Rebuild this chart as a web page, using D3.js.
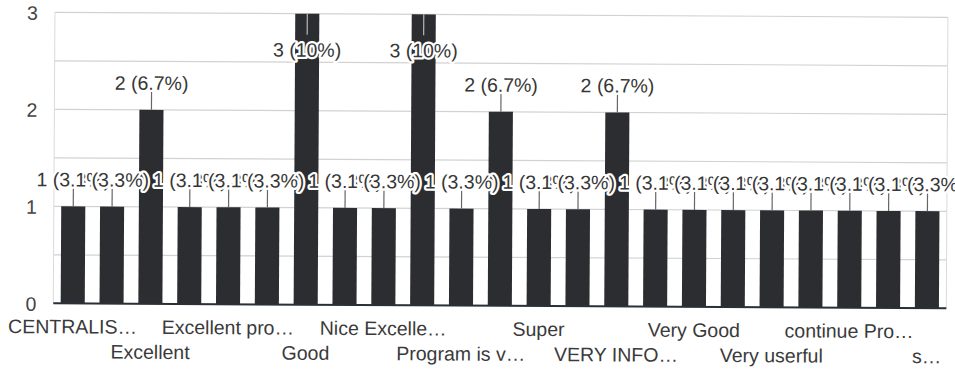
<!DOCTYPE html>
<html>
<head>
<meta charset="utf-8">
<script src="https://cdn.jsdelivr.net/npm/d3@7"></script>
<style>
  html, body { margin: 0; padding: 0; background: #fff; }
  svg { display: block; font-family: "Liberation Sans", Arial, sans-serif; }
</style>
</head>
<body>
<svg id="chart" width="955" height="376"></svg>
<script>
// Responses, sorted the way the form summary sorts them
const categories = [
  "CENTRALIS…", "Effective", "Excellent", "Excellent and useful", "Excellent pro…",
  "Fruitful", "Good", "Informative", "Nice Excelle…", "Nice program",
  "Program is v…", "Program was useful", "Super", "Useful", "VERY INFO…",
  "VERY USEFUL", "Very Good", "Very nice", "Very userful", "Well organised",
  "continue Pro…", "good", "s…"
];
const counts = [
  1, 1, 2, 1, 1,
  1, 3, 1, 1, 3,
  1, 2, 1, 1, 2,
  1, 1, 1, 1, 1,
  1, 1, 1
];
const totalResponses = 30;
const yTickValues = [0, 1, 2, 3];
const gridValues = [0, 0.5, 1, 1.5, 2, 2.5, 3];

const svg = d3.select("#chart");
const plot = { left: 55, right: 948, top: 12, bottom: 303 };

// whole drawing sits at a very slight clockwise tilt
const g = svg.append("g").attr("transform", "rotate(0.32)");

const x = d3.scaleBand()
  .domain(categories)
  .range([plot.left, plot.right])
  .paddingInner(0.38)
  .paddingOuter(0.19);

const y = d3.scaleLinear()
  .domain([0, 3])
  .range([plot.bottom, plot.top]);

const data = categories.map((c, i) => ({ cat: c, value: counts[i], i }));

// gridlines
g.append("g")
  .selectAll("line")
  .data(gridValues)
  .join("line")
  .attr("x1", plot.left).attr("x2", plot.right)
  .attr("y1", d => y(d)).attr("y2", d => y(d))
  .attr("stroke", "#d2d2d2")
  .attr("stroke-width", 1.2);

// chart-area side edges
[plot.left, plot.right].forEach(px => {
  g.append("line")
    .attr("x1", px).attr("x2", px)
    .attr("y1", y(3)).attr("y2", y(0))
    .attr("stroke", "#dadada")
    .attr("stroke-width", 1);
});

// y-axis labels
const yAxis = d3.axisLeft(y).tickValues(yTickValues).tickFormat(d3.format("d")).tickSize(0).tickPadding(0);
const yAxisG = g.append("g")
  .attr("transform", `translate(38,0)`)
  .call(yAxis);
yAxisG.select(".domain").remove();
yAxisG.selectAll("text")
  .attr("font-size", "19.5px")
  .attr("font-family", "\"Liberation Sans\", Arial, sans-serif")
  .attr("fill", "#444")
  .attr("dy", "0.36em");

// bars
g.append("g")
  .selectAll("rect")
  .data(data)
  .join("rect")
  .attr("x", d => x(d.cat))
  .attr("y", d => y(d.value))
  .attr("width", x.bandwidth())
  .attr("height", d => y(0) - y(d.value))
  .attr("fill", "#2c2d30");

// baseline
g.append("line")
  .attr("x1", plot.left).attr("x2", plot.right)
  .attr("y1", y(0)).attr("y2", y(0))
  .attr("stroke", "#2a3038")
  .attr("stroke-width", 2);

// x-axis labels: every other category, alternating between two rows
const xAxis = d3.axisBottom(x).tickSize(0).tickPadding(0)
  .tickFormat((d, i) => (i % 2 === 0 ? d : ""));
const xAxisG = g.append("g")
  .attr("transform", `translate(0,${y(0)})`)
  .call(xAxis);
xAxisG.select(".domain").remove();
xAxisG.selectAll("text")
  .attr("font-size", "19.5px")
  .attr("font-family", "\"Liberation Sans\", Arial, sans-serif")
  .attr("fill", "#3a3a3a")
  .attr("dy", null)
  .attr("y", (d, i) => (Math.floor(i / 2) % 2 === 0 ? 30 : 55));

// value annotations with stems
const pct = v => Math.round(v / totalResponses * 1000) / 10;
const labelFits = d => y(d.value) - 20 - 15 > plot.top;
const ann = g.append("g");

ann.selectAll("line")
  .data(data)
  .join("line")
  .attr("x1", d => x(d.cat) + x.bandwidth() / 2)
  .attr("x2", d => x(d.cat) + x.bandwidth() / 2)
  .attr("y1", d => labelFits(d) ? y(d.value) - 18 : y(d.value))
  .attr("y2", d => labelFits(d) ? y(d.value) : y(d.value) + 21)
  .attr("stroke", d => labelFits(d) ? "#666" : "#b8b8b8")
  .attr("stroke-width", 1.2);

ann.selectAll("text")
  .data(data)
  .join("text")
  .attr("x", d => x(d.cat) + x.bandwidth() / 2)
  .attr("y", d => labelFits(d) ? y(d.value) - 20 : y(d.value) + 43)
  .attr("text-anchor", "middle")
  .attr("font-size", "19.5px")
  .attr("fill", "#363636")
  .attr("stroke", "#fff")
  .attr("stroke-width", 4.5)
  .attr("stroke-linejoin", "round")
  .attr("paint-order", "stroke")
  .text(d => `${d.value} (${pct(d.value)}%)`);
</script>
</body>
</html>
